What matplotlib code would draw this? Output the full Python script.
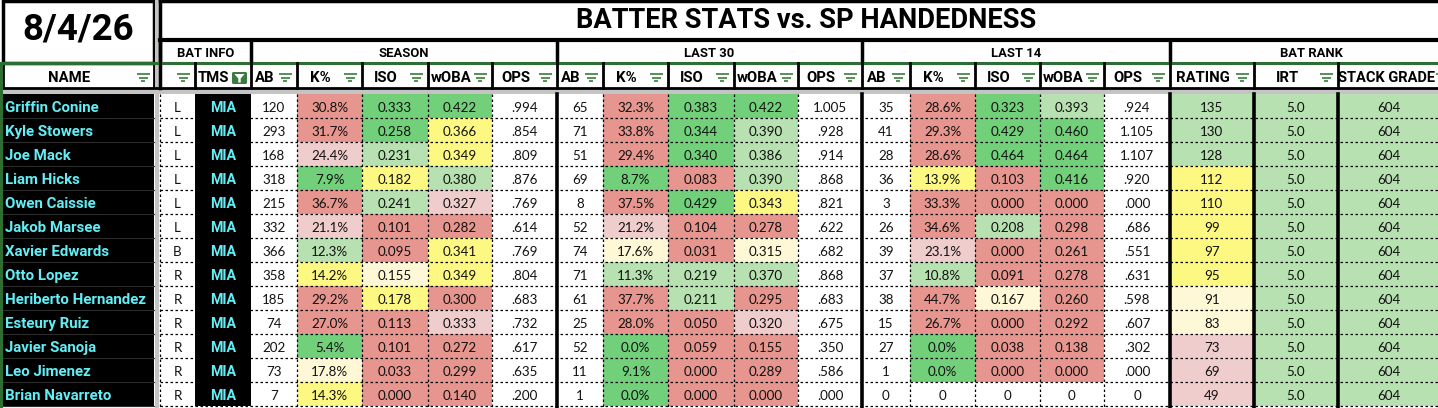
import matplotlib.pyplot as plt
from matplotlib.patches import Rectangle, FancyBboxPatch, Polygon

# ---- data ----
title = 'BATTER STATS vs. SP HANDEDNESS'
date_label = '8/4/26'

names = ['Griffin Conine', 'Kyle Stowers', 'Joe Mack', 'Liam Hicks', 'Owen Caissie',
         'Jakob Marsee', 'Xavier Edwards', 'Otto Lopez', 'Heriberto Hernandez',
         'Esteury Ruiz', 'Javier Sanoja', 'Leo Jimenez', 'Brian Navarreto']
hand = ['L', 'L', 'L', 'L', 'L', 'L', 'B', 'R', 'R', 'R', 'R', 'R', 'R']
team = ['MIA'] * 13

season_ab = [120, 293, 168, 318, 215, 332, 366, 358, 185, 74, 202, 73, 7]
season_k = [30.8, 31.7, 24.4, 7.9, 36.7, 21.1, 12.3, 14.2, 29.2, 27.0, 5.4, 17.8, 14.3]
season_iso = [0.333, 0.258, 0.231, 0.182, 0.241, 0.101, 0.095, 0.155, 0.178, 0.113, 0.101, 0.033, 0.000]
season_woba = [0.422, 0.366, 0.349, 0.380, 0.327, 0.282, 0.341, 0.349, 0.300, 0.333, 0.272, 0.299, 0.140]
season_ops = [0.994, 0.854, 0.809, 0.876, 0.769, 0.614, 0.769, 0.804, 0.683, 0.732, 0.617, 0.635, 0.200]

l30_ab = [65, 71, 51, 69, 8, 52, 74, 71, 61, 25, 52, 11, 1]
l30_k = [32.3, 33.8, 29.4, 8.7, 37.5, 21.2, 17.6, 11.3, 37.7, 28.0, 0.0, 9.1, 0.0]
l30_iso = [0.383, 0.344, 0.340, 0.083, 0.429, 0.104, 0.031, 0.219, 0.211, 0.050, 0.059, 0.000, 0.000]
l30_woba = [0.422, 0.390, 0.386, 0.390, 0.343, 0.278, 0.315, 0.370, 0.295, 0.320, 0.155, 0.289, 0.000]
l30_ops = [1.005, 0.928, 0.914, 0.868, 0.821, 0.622, 0.682, 0.868, 0.683, 0.675, 0.350, 0.586, 0.000]

# ints (0) are shown as plain "0" in the sheet
l14_ab = [35, 41, 28, 36, 3, 26, 39, 37, 38, 15, 27, 1, 0]
l14_k = [28.6, 29.3, 28.6, 13.9, 33.3, 34.6, 23.1, 10.8, 44.7, 26.7, 0.0, 0.0, 0]
l14_iso = [0.323, 0.429, 0.464, 0.103, 0.000, 0.208, 0.000, 0.091, 0.167, 0.000, 0.038, 0.000, 0]
l14_woba = [0.393, 0.460, 0.464, 0.416, 0.000, 0.298, 0.261, 0.278, 0.260, 0.292, 0.138, 0.000, 0]
l14_ops = [0.924, 1.105, 1.107, 0.920, 0.000, 0.686, 0.551, 0.631, 0.598, 0.607, 0.302, 0.000, 0]

rating = [135, 130, 128, 112, 110, 99, 97, 95, 91, 83, 73, 69, 49]
irt = [5.0] * 13
stack_grade = [604] * 13

# conditional format tiers: G green, g light green, Y yellow, y light yellow, p pink, R red, w white
season_k_tier = 'RRpGRpgYRRGyY'
season_iso_tier = 'GGgYgRRyYRRRR'
season_woba_tier = 'GYYgpRYYRpRRR'
l30_k_tier = 'RRRGRpygRRGGG'
l30_iso_tier = 'GGGRGRRggRRRR'
l30_woba_tier = 'GgggYRygRpRRR'
l14_k_tier = 'RRRYRRpgRRGGw'
l14_iso_tier = 'GGGRRgRRyRRRw'
l14_woba_tier = 'gGGGRRRRRRRRw'
rating_tier = 'gggYYYYYyyppp'
irt_tier = 'g' * 13
stack_tier = 'g' * 13

tier_colors = {'G': '#72d07a', 'g': '#b7e1b0', 'Y': '#fcf882', 'y': '#fef8d6',
               'p': '#f0cdcd', 'R': '#e6968e', 'w': '#ffffff'}


def fmt_int(v):
    return str(v)


def fmt_pct(v):
    return str(v) if isinstance(v, int) else f'{v:.1f}%'


def fmt_3(v):
    return str(v) if isinstance(v, int) else f'{v:.3f}'


def fmt_ops(v):
    if isinstance(v, int):
        return str(v)
    s = f'{v:.3f}'
    return s[1:] if s.startswith('0') else s


def fmt_1(v):
    return f'{v:.1f}'


# columns after the name column: (header, values, formatter, tiers)
none_tier = 'w' * 13
columns = [
    ('', hand, str, none_tier),
    ('TMS', team, str, None),
    ('AB', season_ab, fmt_int, none_tier),
    ('K%', season_k, fmt_pct, season_k_tier),
    ('ISO', season_iso, fmt_3, season_iso_tier),
    ('wOBA', season_woba, fmt_3, season_woba_tier),
    ('OPS', season_ops, fmt_ops, none_tier),
    ('AB', l30_ab, fmt_int, none_tier),
    ('K%', l30_k, fmt_pct, l30_k_tier),
    ('ISO', l30_iso, fmt_3, l30_iso_tier),
    ('wOBA', l30_woba, fmt_3, l30_woba_tier),
    ('OPS', l30_ops, fmt_ops, none_tier),
    ('AB', l14_ab, fmt_int, none_tier),
    ('K%', l14_k, fmt_pct, l14_k_tier),
    ('ISO', l14_iso, fmt_3, l14_iso_tier),
    ('wOBA', l14_woba, fmt_3, l14_woba_tier),
    ('OPS', l14_ops, fmt_ops, none_tier),
    ('RATING', rating, fmt_int, rating_tier),
    ('IRT', irt, fmt_1, irt_tier),
    ('STACK GRADE', stack_grade, fmt_int, stack_tier),
]
groups = [('BAT INFO', 0, 2), ('SEASON', 2, 7), ('LAST 30', 7, 12), ('LAST 14', 12, 17), ('BAT RANK', 17, 20)]

# ---- layout (pixels) ----
W, H = 1438, 408
edges = [160, 195, 251, 297, 362, 428, 492, 557, 603, 668, 734, 798, 862,
         910, 975, 1040, 1104, 1170, 1254, 1338, 1452]
thick_edges = [557, 862, 1170, 1254, 1338]
row_top0, row_h = 94.3, 24
name_x0, name_x1 = 2, 153.5

BOLD = 'Roboto'
BODY = 'Lato'
CYAN = '#62eef5'
DKGREEN = '#2f6e33'
ICON = '#3a7d3e'

fig = plt.figure(figsize=(W / 100, H / 100), dpi=100)
ax = fig.add_axes([0, 0, 1, 1])
ax.set_xlim(0, W)
ax.set_ylim(H, 0)
ax.axis('off')


def filter_icon(cx, cy):
    for w, dy in zip([13, 9, 4], [-3.4, 0, 3.4]):
        ax.plot([cx - w / 2, cx + w / 2], [cy + dy, cy + dy], color=ICON, lw=1.2,
                solid_capstyle='butt')


nrows = len(names)

# body cells
for r in range(nrows):
    y0 = row_top0 + r * row_h
    base = y0 + 18
    ax.add_patch(Rectangle((name_x0, y0), name_x1 - name_x0, row_h, color='black', lw=0))
    ax.text(5, base, names[r], color=CYAN, fontsize=10.8, fontweight='bold',
            family=BOLD, va='baseline', ha='left')
    for c, (hdr, vals, fmt, tiers) in enumerate(columns):
        x0, x1 = edges[c], edges[c + 1]
        if tiers is None:
            ax.add_patch(Rectangle((x0, y0), x1 - x0, row_h, color='black', lw=0))
            ax.text((x0 + x1) / 2, base, vals[r], color=CYAN, fontsize=10.3,
                    fontweight='bold', family=BOLD, ha='center', va='baseline')
        else:
            ax.add_patch(Rectangle((x0, y0), x1 - x0, row_h,
                                   color=tier_colors[tiers[r]], lw=0))
            cx = (x0 + x1) / 2 if c < len(columns) - 1 else (x0 + 1440) / 2
            ax.text(cx, base, fmt(vals[r]), color='#111111', fontsize=9.6,
                    family=BODY, ha='center', va='baseline')

# row separators
for r in range(1, nrows + 1):
    y = row_top0 + r * row_h
    ax.plot([name_x0, name_x1], [y, y], color='#2c2c2c', lw=0.8)
    ax.plot([edges[0], W], [y, y], color='black', lw=0.9, ls=(0, (2, 2)))
# column separators in the body
for e in edges[:-1]:
    if e in thick_edges:
        ax.plot([e, e], [row_top0, H], color='black', lw=2.6)
    elif e not in (195, 251):
        ax.plot([e, e], [row_top0, H], color='black', lw=0.9, ls=(0, (2, 2)))

# ---- header area ----
# date box
ax.add_patch(Rectangle((2.5, 1), 151, 62, fill=False, ec='black', lw=2.5))
ax.text(78, 40, date_label, fontsize=26.5, fontweight='bold', family=BOLD,
        ha='center', va='baseline')

# title block
ax.plot([160, W], [1, 1], color='black', lw=2.5)
ax.plot([160, W], [40, 40], color='black', lw=3)
ax.plot([160, 160], [0, 88], color='black', lw=2.5)
ax.text(806, 28.5, title, fontsize=19.6, fontweight='bold', family=BOLD,
        ha='center', va='baseline')

# group header row
for label, c0, c1 in groups:
    x0, x1 = edges[c0], edges[c1]
    ax.plot([x0, x0], [40, 63], color='black', lw=2.5)
    ax.text((x0 + x1) / 2, 57.3, label, fontsize=9.4, fontweight='bold', family=BOLD,
            ha='center', va='baseline')

# green rule under groups
ax.plot([0, W], [63, 63], color=DKGREEN, lw=2.2)

# column header row
ax.add_patch(Rectangle((2.5, 63), 151, 25.5, fill=False, ec='black', lw=2))
ax.text(69, 82, 'NAME', fontsize=10.7, fontweight='bold', family=BOLD,
        ha='center', va='baseline')
filter_icon(143, 77.7)
for c, (hdr, vals, fmt, tiers) in enumerate(columns):
    x0, x1 = edges[c], edges[c + 1]
    ax.plot([x0, x0], [63, 88], color='black', lw=2)
    if hdr == 'TMS':
        ax.text(213, 82, hdr, fontsize=10.7, fontweight='bold', family=BOLD,
                ha='center', va='baseline')
        ax.add_patch(FancyBboxPatch((232, 72), 15, 12, boxstyle='round,pad=0,rounding_size=1.5',
                                    fc=ICON, ec='none'))
        ax.add_patch(Polygon([(234.5, 74), (244.5, 74), (240.7, 78.5), (240.7, 82.5),
                              (238.3, 82.5), (238.3, 78.5)], closed=True, fc='white', ec='none'))
        continue
    if hdr:
        last = c == len(columns) - 1
        ax.text((x0 + x1) / 2 - 9 if not last else 1386, 82, hdr,
                fontsize=10.7 if not last else 10.5, fontweight='bold', family=BOLD,
                ha='center', va='baseline')
    icon_x = x1 - 12 if c < len(columns) - 1 else 1442
    filter_icon(icon_x, 77.7)
ax.plot([2.5, W], [88, 88], color='black', lw=2)

# frozen-pane dividers
ax.add_patch(Rectangle((154.5, 0), 4.5, H, color='#c4c4c4', lw=0))
ax.add_patch(Rectangle((0, 89), W, 4.5, color='#c4c4c4', lw=0))
ax.plot([1.2, 1.2], [63, H], color=DKGREEN, lw=2.2)

fig.savefig('out.png', dpi=100)
